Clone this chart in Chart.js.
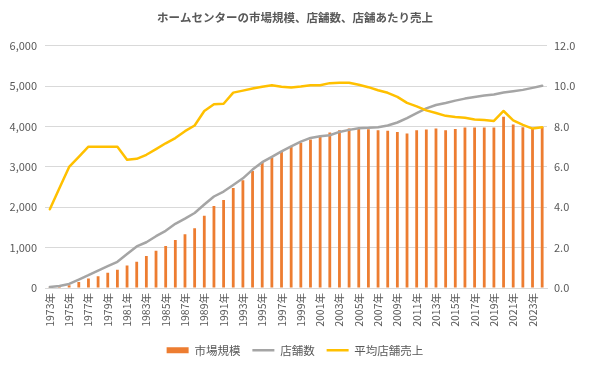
<!DOCTYPE html>
<html>
<head>
<meta charset="utf-8">
<script src="https://cdn.jsdelivr.net/npm/chart.js@4/dist/chart.umd.min.js"></script>
<style>
  html, body { margin: 0; padding: 0; background: #ffffff; }
  #wrap { width: 590px; height: 366px; }
</style>
</head>
<body>
<div id="wrap"><canvas id="c" width="590" height="366"></canvas></div>
<script>
const titleText = 'ホームセンターの市場規模、店舗数、店舗あたり売上';
const years = ['1973年','1974年','1975年','1976年','1977年','1978年','1979年','1980年','1981年','1982年',
  '1983年','1984年','1985年','1986年','1987年','1988年','1989年','1990年','1991年','1992年',
  '1993年','1994年','1995年','1996年','1997年','1998年','1999年','2000年','2001年','2002年',
  '2003年','2004年','2005年','2006年','2007年','2008年','2009年','2010年','2011年','2012年',
  '2013年','2014年','2015年','2016年','2017年','2018年','2019年','2020年','2021年','2022年',
  '2023年','2024年'];
const seriesNames = ['市場規模', '店舗数', '平均店舗売上'];
const marketSize = [20, 40, 70, 150, 235, 290, 375, 450, 555, 650,
  790, 925, 1040, 1190, 1330, 1480, 1790, 2030, 2180, 2475,
  2670, 2900, 3120, 3230, 3370, 3500, 3600, 3680, 3750, 3850,
  3910, 3950, 3940, 3930, 3910, 3895, 3865, 3830, 3905, 3925,
  3950, 3910, 3940, 3975, 3975, 3975, 3975, 4245, 4050, 3985,
  3950, 3990];
const storeCount = [25, 50, 100, 210, 317, 433, 540, 650, 840, 1030,
  1133, 1283, 1417, 1590, 1717, 1858, 2067, 2267, 2390, 2550,
  2717, 2933, 3117, 3250, 3383, 3508, 3625, 3717, 3760, 3783,
  3867, 3917, 3958, 3967, 3983, 4025, 4100, 4210, 4333, 4450,
  4533, 4583, 4642, 4692, 4733, 4767, 4792, 4842, 4875, 4908,
  4958, 5008];
const avgSales = [3.9, 4.95, 6.0, 6.5, 7.0, 7.0, 7.0, 7.0, 6.35, 6.4,
  6.6, 6.88, 7.17, 7.43, 7.77, 8.05, 8.77, 9.1, 9.13, 9.68,
  9.78, 9.88, 9.97, 10.05, 9.97, 9.93, 9.98, 10.05, 10.05, 10.15,
  10.17, 10.17, 10.07, 9.95, 9.8, 9.67, 9.47, 9.17, 9.0, 8.8,
  8.67, 8.53, 8.47, 8.43, 8.35, 8.32, 8.28, 8.77, 8.3, 8.08,
  7.9, 7.97];
const leftTicks = [0, 1000, 2000, 3000, 4000, 5000, 6000];
const rightTicks = [0, 2, 4, 6, 8, 10, 12];

const FONT = "'Noto Sans CJK JP', 'Noto Sans', sans-serif";
const TXT = '#595959';
const GRID = '#d9d9d9';

new Chart(document.getElementById('c'), {
  data: {
    labels: years,
    datasets: [
      {
        type: 'bar', label: seriesNames[0], data: marketSize, yAxisID: 'y',
        backgroundColor: '#ED7D31', borderWidth: 0,
        barPercentage: 0.29, categoryPercentage: 1.0, order: 3,
        pointStyle: 'rect'
      },
      {
        type: 'line', label: seriesNames[1], data: storeCount, yAxisID: 'y',
        borderColor: '#A5A5A5', backgroundColor: '#A5A5A5', borderWidth: 2.5,
        pointRadius: 0, tension: 0, borderJoinStyle: 'round', borderCapStyle: 'round',
        order: 2, pointStyle: 'line'
      },
      {
        type: 'line', label: seriesNames[2], data: avgSales, yAxisID: 'y1',
        borderColor: '#FFC000', backgroundColor: '#FFC000', borderWidth: 2.5,
        pointRadius: 0, tension: 0, borderJoinStyle: 'round', borderCapStyle: 'round',
        order: 1, pointStyle: 'line'
      }
    ]
  },
  options: {
    responsive: false,
    animation: false,
    devicePixelRatio: 1,
    layout: { padding: { left: 0, right: 0, top: 0, bottom: 0 } },
    plugins: {
      tooltip: { enabled: false },
      title: {
        display: true, text: titleText, color: TXT,
        font: { family: FONT, size: 11.5, weight: 'bold', lineHeight: 1.2 },
        padding: { top: 11, bottom: 21 }
      },
      legend: {
        display: true, position: 'bottom',
        labels: {
          color: TXT, font: { family: FONT, size: 11.5 },
          usePointStyle: true, pointStyleWidth: 22, boxHeight: 6, padding: 12,
          sort: (a, b) => a.datasetIndex - b.datasetIndex
        }
      }
    },
    scales: {
      x: {
        grid: { display: false, drawTicks: false },
        border: { display: true, color: GRID, width: 1 },
        ticks: {
          autoSkip: false, minRotation: 90, maxRotation: 90, padding: 5,
          color: TXT, font: { family: FONT, size: 10.5 },
          callback: function (v, i) { return i % 2 === 0 ? this.getLabelForValue(v) : ''; }
        },
        afterFit: (s) => { s.height = 44.5; }
      },
      y: {
        position: 'left', min: 0, max: 6000,
        afterBuildTicks: (s) => { s.ticks = leftTicks.map(v => ({ value: v })); },
        grid: { color: GRID, lineWidth: 1, drawTicks: false },
        border: { display: false },
        ticks: {
          padding: 8, color: TXT, font: { family: FONT, size: 11 },
          callback: (v) => Number(v).toLocaleString('en-US')
        },
        afterFit: (s) => { s.width = 45; }
      },
      y1: {
        position: 'right', min: 0, max: 12,
        afterBuildTicks: (s) => { s.ticks = rightTicks.map(v => ({ value: v })); },
        grid: { display: false, drawTicks: false },
        border: { display: false },
        ticks: {
          padding: 7, color: TXT, font: { family: FONT, size: 11 },
          callback: (v) => Number(v).toFixed(1)
        },
        afterFit: (s) => { s.width = 43; }
      }
    }
  }
});
</script>
</body>
</html>
